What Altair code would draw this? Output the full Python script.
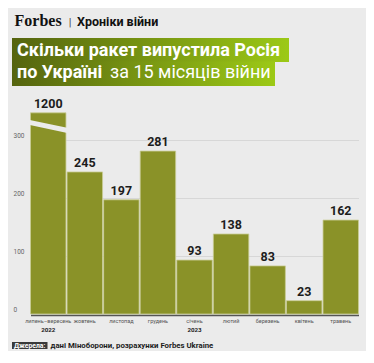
import altair as alt
import pandas as pd

# ---- data ----
months = ["липень–вересень", "жовтень", "листопад", "грудень", "січень",
          "лютий", "березень", "квітень", "травень"]
years = ["2022", "", "", "", "2023", "", "", "", ""]
rockets = [1200, 245, 197, 281, 93, 138, 83, 23, 162]
CAP = 347          # the 1200 bar is drawn truncated at this height
Y_TICKS = [0, 100, 200, 300]

df = pd.DataFrame({"month": months, "year": years, "rockets": rockets})
df["shown"] = df["rockets"].clip(upper=CAP)
df["label"] = df["rockets"].astype(str)

W, H = 351, 218
YMAX = 376
FONT = "Roboto"
BAR = "#8a9228"
BG = "#ebebeb"

x = alt.X("month:N", sort=months,
          scale=alt.Scale(range=[18.5, 346.5], paddingInner=0.03, paddingOuter=0),
          axis=alt.Axis(title=None, labelFontSize=5.5, labelColor="#555", labelPadding=3.5,
                        ticks=False, domainColor="#555", domainWidth=1.5, offset=1,
                        labelAngle=0, labelFont=FONT, labelBaseline="top"))
y = alt.Y("shown:Q", scale=alt.Scale(domain=[0, YMAX], nice=False),
          axis=alt.Axis(title=None, values=Y_TICKS, grid=True, gridColor="#d2d2d2",
                        gridWidth=0.8, domain=False, ticks=False, labelAlign="left",
                        labelBaseline="alphabetic", labelPadding=-1, labelOffset=-3,
                        labelFontSize=6.5, labelColor="#666", labelFont=FONT))

base = alt.Chart(df)
bars = base.mark_bar(color=BAR, stroke="#c9cd96", strokeWidth=0.8).encode(x=x, y=y)
values = base.mark_text(font=FONT, fontSize=12.5, fontWeight="bold", color="#1c1c1c",
                        baseline="alphabetic", dy=-5).encode(x=x, y=y, text="label")
yrs = base.transform_filter("datum.year != ''").mark_text(
    font=FONT, fontSize=6.2, fontWeight="bold", color="#222", baseline="middle"
).encode(x=x, y=alt.value(233.5), text="year")

one = alt.Chart(alt.Data(values=[{}]))

brk = one.mark_rule(color=BG, strokeWidth=5).encode(
    x=alt.value(16), x2=alt.value(57), y=alt.datum(331), y2=alt.datum(316))

grad = alt.Gradient(gradient="linear",
                    stops=[alt.GradientStop(color="#55640f", offset=0),
                           alt.GradientStop(color="#9cc916", offset=1)],
                    x1=0, x2=1, y1=0, y2=0)
row1 = one.mark_rect(color=grad).encode(x=alt.value(0), x2=alt.value(277),
                                        y=alt.value(-58), y2=alt.value(-34))
row2 = one.mark_rect(color=grad).encode(x=alt.value(0), x2=alt.value(263),
                                        y=alt.value(-34.5), y2=alt.value(-10))

t1 = one.mark_text(text="Скільки ракет випустила Росія", font=FONT, fontSize=18,
                   fontWeight="bold", color="white", align="left", baseline="alphabetic"
                   ).encode(x=alt.value(5), y=alt.value(-40))
t2 = one.mark_text(text="по Україні", font=FONT, fontSize=18, fontWeight="bold",
                   color="white", align="left", baseline="alphabetic"
                   ).encode(x=alt.value(5), y=alt.value(-18))
t3 = one.mark_text(text="за 15 місяців війни", font=FONT, fontSize=18, fontWeight="normal",
                   color="white", align="left", baseline="alphabetic"
                   ).encode(x=alt.value(98), y=alt.value(-18))

logo = one.mark_text(text="Forbes", font="Liberation Serif", fontSize=16, fontWeight="bold",
                     color="#111", align="left", baseline="alphabetic"
                     ).encode(x=alt.value(2.5), y=alt.value(-70))
bar_sep = one.mark_text(text="|", font=FONT, fontSize=11, color="#444",
                        align="center", baseline="alphabetic"
                        ).encode(x=alt.value(58), y=alt.value(-70.5))
rubric = one.mark_text(text="Хроніки війни", font=FONT, fontSize=12.5, fontWeight="bold",
                       color="#111", align="left", baseline="alphabetic"
                       ).encode(x=alt.value(65), y=alt.value(-70))

src_box = one.mark_rect(color="#3a3a3a").encode(x=alt.value(0), x2=alt.value(35.5),
                                                y=alt.value(246), y2=alt.value(253))
src_lbl = one.mark_text(text="Джерела:", font=FONT, fontSize=6.8, fontWeight="bold",
                        color="white", align="left", baseline="middle"
                        ).encode(x=alt.value(2), y=alt.value(249.7))
src_txt = one.mark_text(text="дані Міноборони, розрахунки Forbes Ukraine", font=FONT,
                        fontSize=7.8, fontWeight="bold", color="#1c1c1c", align="left",
                        baseline="middle").encode(x=alt.value(38.5), y=alt.value(250))

chart = alt.layer(
    bars, brk, values, yrs, row1, row2, t1, t2, t3, logo, bar_sep, rubric,
    src_box, src_lbl, src_txt
).properties(
    width=W, height=H,
    padding={"left": 4, "top": 88, "right": 3, "bottom": 37},
    autosize=alt.AutoSizeParams(type="none"),
    background=BG,
).configure_view(stroke=None)

chart.save("out.html", embed_options={"renderer": "svg", "actions": False})
